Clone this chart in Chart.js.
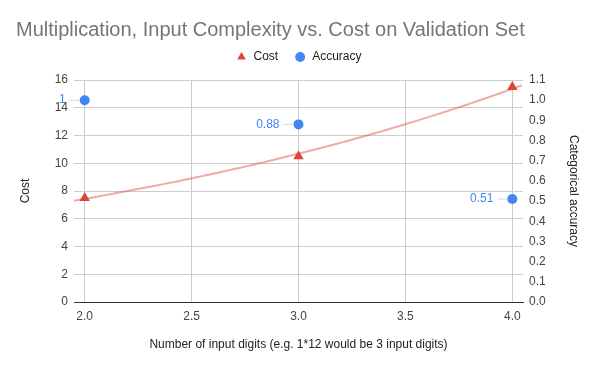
<!DOCTYPE html>
<html>
<head>
<meta charset="utf-8">
<script src="https://cdn.jsdelivr.net/npm/chart.js@4/dist/chart.umd.min.js"></script>
<style>
  html, body { margin: 0; padding: 0; background: #fff; }
  #wrap { width: 597px; height: 366px; }
</style>
</head>
<body>
<div id="wrap"><canvas id="chart"></canvas></div>
<script>
// values
const digits = [2, 3, 4];
const costValues = [7.5, 10.5, 15.5];
const accuracyValues = [1, 0.88, 0.51];
const xTicks = [2.0, 2.5, 3.0, 3.5, 4.0];
const accTicks = [0.0, 0.1, 0.2, 0.3, 0.4, 0.5, 0.6, 0.7, 0.8, 0.9, 1.0, 1.1];

const RED = "#DB4437";
const BLUE = "#4285F4";

Chart.defaults.font.family = "'Liberation Sans', Arial, sans-serif";
Chart.defaults.font.size = 12;

// exponential trendline through the cost points, drawn via the scales
const trendline = {
    id: "trendline",
    beforeDatasetsDraw(chart) {
        const xs = digits;
        const ls = costValues.map((v) => Math.log(v));
        const mx = xs.reduce((a, b) => a + b, 0) / xs.length;
        const ml = ls.reduce((a, b) => a + b, 0) / ls.length;
        let num = 0, den = 0;
        xs.forEach((x, i) => {
            num += (x - mx) * (ls[i] - ml);
            den += (x - mx) * (x - mx);
        });
        const b = num / den;
        const a = ml - b * mx;

        const xScale = chart.scales.x;
        const yScale = chart.scales.y;
        const area = chart.chartArea;
        const ctx = chart.ctx;
        ctx.save();
        ctx.beginPath();
        ctx.rect(area.left, area.top, area.right - area.left, area.bottom - area.top);
        ctx.clip();
        ctx.beginPath();
        for (let px = area.left; px <= area.right; px += 4) {
            const x = xScale.getValueForPixel(px);
            const py = yScale.getPixelForValue(Math.exp(a + b * x));
            if (px === area.left) ctx.moveTo(px, py); else ctx.lineTo(px, py);
        }
        ctx.strokeStyle = "rgba(219, 68, 55, 0.45)";
        ctx.lineWidth = 2;
        ctx.stroke();
        ctx.restore();
    },
};

// value labels with a short leader line, left of each accuracy point
const accLabels = {
    id: "accLabels",
    afterDatasetsDraw(chart) {
        const ctx = chart.ctx;
        const meta = chart.getDatasetMeta(1);
        ctx.save();
        meta.data.forEach((pt, i) => {
            ctx.beginPath();
            ctx.moveTo(pt.x - 15, pt.y);
            ctx.lineTo(pt.x - 5, pt.y);
            ctx.strokeStyle = "#d8d8d8";
            ctx.lineWidth = 1;
            ctx.stroke();
            ctx.font = "12px 'Liberation Sans', Arial, sans-serif";
            ctx.fillStyle = BLUE;
            ctx.textAlign = "right";
            ctx.textBaseline = "middle";
            ctx.fillText(String(accuracyValues[i]), pt.x - 19, pt.y);
        });
        ctx.restore();
    },
};

// lift the legend a little above its layout slot
const legendNudge = {
    id: "legendNudge",
    afterLayout(chart) {
        chart.legend.top -= 7;
        chart.legend.bottom -= 7;
    },
};

new Chart(document.getElementById("chart"), {
    type: "scatter",
    data: {
        datasets: [
            {
                label: "Cost",
                data: digits.map((d, i) => ({ x: d, y: costValues[i] })),
                yAxisID: "y",
                pointStyle: "triangle",
                pointRadius: 6,
                backgroundColor: RED,
                borderColor: RED,
                borderWidth: 0,
            },
            {
                label: "Accuracy",
                data: digits.map((d, i) => ({ x: d, y: accuracyValues[i] })),
                yAxisID: "y1",
                pointStyle: "circle",
                pointRadius: 5,
                backgroundColor: BLUE,
                borderColor: BLUE,
                borderWidth: 0,
            },
        ],
    },
    options: {
        responsive: true,
        maintainAspectRatio: false,
        animation: false,
        events: [],
        layout: { padding: { left: 16, right: 16, top: 0, bottom: 0 } },
        plugins: {
            title: {
                display: true,
                text: "Multiplication, Input Complexity vs. Cost on Validation Set",
                align: "start",
                color: "#757575",
                font: { size: 20, weight: "normal" },
                padding: { top: 18, bottom: 0 },
            },
            legend: {
                display: true,
                labels: {
                    usePointStyle: true,
                    boxHeight: 7,
                    padding: 16,
                    color: "#222",
                    font: { size: 12 },
                },
            },
            tooltip: { enabled: false },
        },
        scales: {
            x: {
                type: "linear",
                min: 1.95,
                max: 4.05,
                afterBuildTicks: (scale) => {
                    scale.ticks = xTicks.map((v) => ({ value: v }));
                },
                afterFit: (scale) => { scale.height = 64; },
                ticks: {
                    color: "#444",
                    padding: 7,
                    callback: (v) => Number(v).toFixed(1),
                },
                grid: { color: "#cccccc", drawTicks: false },
                border: { display: true, color: "#333" },
                title: {
                    display: true,
                    text: "Number of input digits (e.g. 1*12 would be 3 input digits)",
                    color: "#222",
                    padding: { top: 0, bottom: 14 },
                },
            },
            y: {
                position: "left",
                min: 0,
                max: 16,
                afterFit: (scale) => { scale.width = 58; },
                ticks: { stepSize: 2, color: "#444", padding: 6 },
                grid: { color: "#cccccc", drawTicks: false },
                border: { display: false },
                title: {
                    display: true,
                    text: "Cost",
                    color: "#222",
                    padding: { top: 2, bottom: 0 },
                },
            },
            y1: {
                position: "right",
                min: 0,
                max: 1.1,
                afterBuildTicks: (scale) => {
                    scale.ticks = accTicks.map((v) => ({ value: v }));
                },
                afterFit: (scale) => { scale.width = 58; },
                ticks: {
                    color: "#444",
                    padding: 6,
                    callback: (v) => Number(v).toFixed(1),
                },
                grid: { display: false, drawTicks: false },
                border: { display: false },
                title: {
                    display: true,
                    text: "Categorical accuracy",
                    color: "#222",
                    padding: { top: 0, bottom: 0 },
                },
            },
        },
    },
    plugins: [trendline, accLabels, legendNudge],
});
</script>
</body>
</html>
